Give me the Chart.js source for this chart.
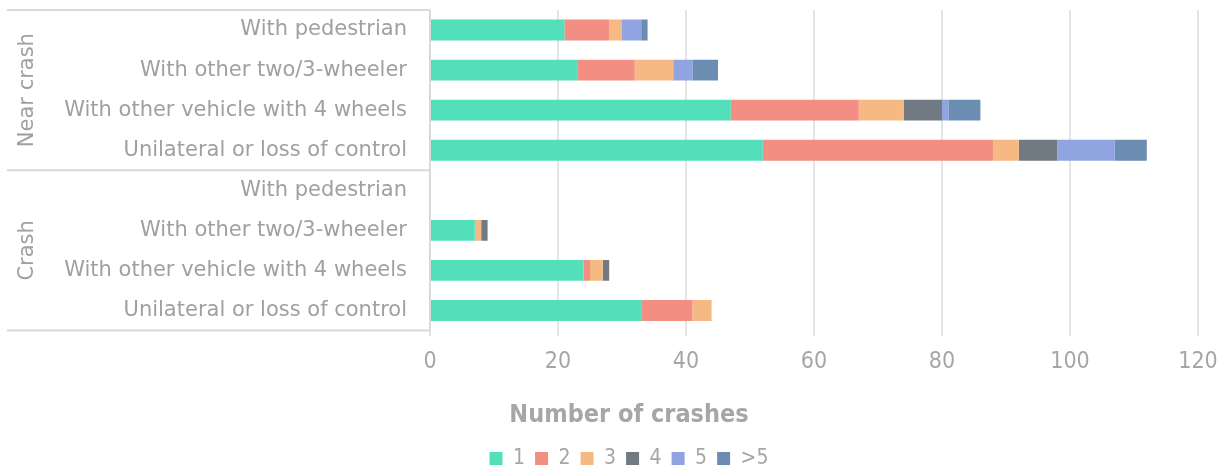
<!DOCTYPE html>
<html><head><meta charset="utf-8">
<script src="https://cdn.jsdelivr.net/npm/chart.js@4.4.1/dist/chart.umd.min.js"></script>
<style>html,body{margin:0;padding:0;background:#fff;}#wrap{width:1225px;height:471px;}</style>
</head><body><div id="wrap"><canvas id="c" width="1225" height="471"></canvas></div>
<script>
const categories = ["With pedestrian","With other two/3-wheeler","With other vehicle with 4 wheels","Unilateral or loss of control","With pedestrian","With other two/3-wheeler","With other vehicle with 4 wheels","Unilateral or loss of control"];
const groups = ["Near crash","Crash"];
const groupSizes = [4,4];
const seriesNames = ["1","2","3","4","5",">5"];
const s1 = [21,23,47,52,0,7,24,33];
const s2 = [7,9,20,36,0,0,1,8];
const s3 = [2,6,7,4,0,1,2,3];
const s4 = [0,0,6,6,0,1,1,0];
const s5 = [3,3,1,9,0,0,0,0];
const s6 = [1,4,5,5,0,0,0,0];
const xMin = 0, xMax = 120, xStep = 20;
const axisTitle = "Number of crashes";
const colors = ['#52dfb9','#f28e82','#f6b983','#717a82','#90a4e2','#6c8db2'];

const labelFont = "'DejaVu Sans', 'Noto Sans', sans-serif";
const numFont = "'Liberation Sans Narrow', 'DejaVu Sans Condensed', sans-serif";
const textGrey = '#a0a0a0';
const lineGrey = '#d9d9d9';

const seriesData = [s1,s2,s3,s4,s5,s6];
const datasets = seriesData.map((d,i)=>({
  label: seriesNames[i], data: d, backgroundColor: colors[i],
  borderWidth: 0, barPercentage: 0.52, categoryPercentage: 1
}));

const groupBox = {
  id: 'groupBox',
  afterDraw(chart){
    const y = chart.scales.y, ctx = chart.ctx;
    const half = (y.getPixelForValue(1) - y.getPixelForValue(0)) / 2;
    const right = chart.chartArea.left;
    const edges = [y.getPixelForValue(0) - half];
    let idx = 0;
    groupSizes.forEach(n => { idx += n; edges.push(y.getPixelForValue(idx-1) + half); });
    ctx.save();
    ctx.strokeStyle = lineGrey; ctx.lineWidth = 2;
    edges.forEach(e => { ctx.beginPath(); ctx.moveTo(7, e); ctx.lineTo(right, e); ctx.stroke(); });
    ctx.beginPath(); ctx.moveTo(right, edges[0]); ctx.lineTo(right, edges[edges.length-1]); ctx.stroke();
    ctx.fillStyle = textGrey; ctx.font = '21px ' + labelFont;
    ctx.textAlign = 'center'; ctx.textBaseline = 'middle';
    groups.forEach((g,i) => {
      const c = (edges[i] + edges[i+1]) / 2;
      ctx.save(); ctx.translate(28, c); ctx.rotate(-Math.PI/2); ctx.fillText(g, 0, 0); ctx.restore();
    });
    ctx.restore();
  }
};

new Chart(document.getElementById('c'), {
  type: 'bar',
  data: { labels: categories, datasets },
  plugins: [groupBox],
  options: {
    indexAxis: 'y', responsive: false, animation: false,
    layout: { padding: { top: 10, left: 60, right: 27, bottom: -8 } },
    scales: {
      y: {
        stacked: true,
        grid: { display: false },
        border: { display: false },
        ticks: { color: textGrey, font: { family: labelFont, size: 21 }, padding: 15, autoSkip: false },
        afterFit: s => { s.width = 370; s.paddingTop = 0; s.paddingBottom = 0; }
      },
      x: {
        stacked: true, min: xMin, max: xMax,
        grid: { color: '#e4e4e4', lineWidth: 2, tickLength: 6, drawTicks: true },
        border: { display: false },
        ticks: { stepSize: xStep, color: '#a6a6a6', font: { family: numFont, size: 23 }, padding: 12 },
        afterFit: s => { s.height = 48; s.paddingLeft = 0; s.paddingRight = 0; }
      }
    },
    plugins: {
      tooltip: { enabled: false },
      title: { display: true, text: axisTitle, position: 'bottom', weight: 500,
        color: '#a6a6a6', font: { family: numFont, size: 25, weight: 'bold' }, padding: { top: 21.5, bottom: 8 } },
      legend: { position: 'bottom',
        labels: { boxWidth: 13, boxHeight: 13, color: '#a6a6a6', font: { family: numFont, size: 21 }, padding: 10 } }
    }
  }
});
</script></body></html>
